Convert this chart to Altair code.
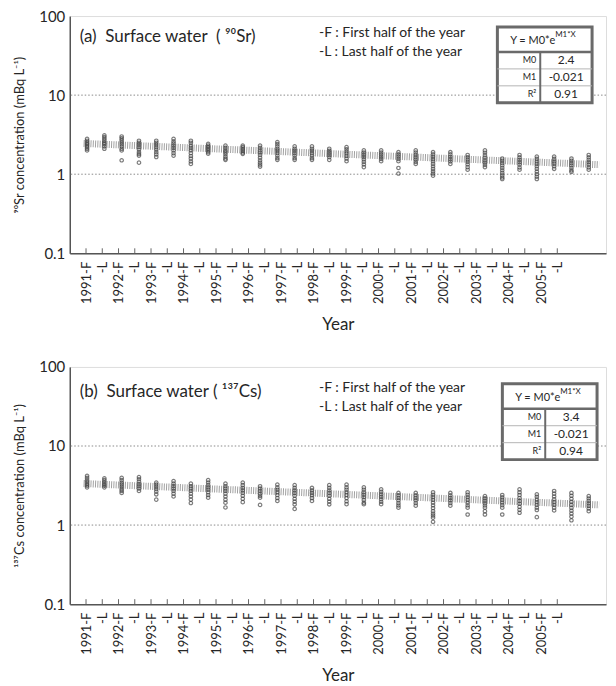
import altair as alt
import pandas as pd

# ---------------- data ----------------
tick_labels = ["1991-F", "-L", "1992-F", "-L", "1993-F", "-L", "1994-F", "-L",
               "1995-F", "-L", "1996-F", "-L", "1997-F", "-L", "1998-F", "-L",
               "1999-F", "-L", "2000-F", "-L", "2001-F", "-L", "2002-F", "-L",
               "2003-F", "-L", "2004-F", "-L", "2005-F", "-L"]

sr_cols = [
    [2.8, 2.65, 2.5, 2.4, 2.3, 2.2, 2.1, 2.0],
    [3.1, 2.95, 2.8, 2.65, 2.5, 2.4, 2.25, 2.1],
    [3.0, 2.85, 2.7, 2.55, 2.4, 2.25, 2.1, 2.0, 1.5],
    [2.65, 2.5, 2.35, 2.2, 2.05, 1.9, 1.8, 1.72, 1.4],
    [2.65, 2.5, 2.35, 2.2, 2.05, 1.9, 1.78, 1.65],
    [2.8, 2.6, 2.45, 2.3, 2.15, 2.0, 1.85, 1.72],
    [2.65, 2.5, 2.3, 2.15, 2.0, 1.85, 1.7, 1.58, 1.45, 1.35],
    [2.42, 2.3, 2.2, 2.1, 2.0, 1.9, 1.82],
    [2.3, 2.15, 2.0, 1.9, 1.8, 1.68, 1.58, 1.52],
    [2.3, 2.2, 2.08, 1.98, 1.88, 1.81],
    [2.3, 2.15, 2.0, 1.88, 1.75, 1.62, 1.5, 1.4, 1.32, 1.25],
    [2.55, 2.4, 2.25, 2.1, 1.98, 1.85, 1.72, 1.6, 1.52],
    [2.25, 2.1, 1.98, 1.85, 1.72, 1.6, 1.52],
    [2.25, 2.1, 1.98, 1.85, 1.72, 1.6, 1.52],
    [2.1, 1.98, 1.86, 1.75, 1.64, 1.52],
    [2.2, 2.07, 1.95, 1.83, 1.7, 1.58, 1.46],
    [2.0, 1.88, 1.76, 1.65, 1.54, 1.43, 1.33, 1.23],
    [2.0, 1.88, 1.77, 1.66, 1.56, 1.46],
    [1.9, 1.78, 1.67, 1.56, 1.46, 1.2, 1.02],
    [2.0, 1.88, 1.76, 1.64, 1.53, 1.43, 1.35],
    [1.9, 1.78, 1.66, 1.55, 1.45, 1.35, 1.26, 1.17, 1.09, 1.02, 0.96],
    [1.9, 1.78, 1.66, 1.55, 1.45, 1.35],
    [1.75, 1.64, 1.53, 1.43, 1.33, 1.23, 1.14],
    [2.0, 1.87, 1.74, 1.62, 1.5, 1.4, 1.31, 1.23],
    [1.58, 1.48, 1.38, 1.29, 1.2, 1.12, 1.04, 0.97, 0.91, 0.87],
    [1.75, 1.63, 1.52, 1.42, 1.32, 1.22, 1.14],
    [1.67, 1.56, 1.45, 1.35, 1.26, 1.17, 1.08, 1.0, 0.93, 0.87],
    [1.67, 1.56, 1.45, 1.36, 1.26, 1.17],
    [1.58, 1.48, 1.38, 1.29, 1.2, 1.12, 1.07],
    [1.75, 1.63, 1.52, 1.42, 1.32, 1.22, 1.14],
]

cs_cols = [
    [4.2, 3.95, 3.7, 3.5, 3.3, 3.15, 3.0],
    [3.9, 3.7, 3.5, 3.3, 3.15, 3.0],
    [3.95, 3.7, 3.45, 3.25, 3.05, 2.85, 2.7, 2.55],
    [4.05, 3.8, 3.55, 3.3, 3.1, 2.9, 2.7],
    [3.45, 3.25, 3.05, 2.85, 2.65, 2.45, 2.1],
    [3.6, 3.35, 3.1, 2.9, 2.7, 2.5, 2.3],
    [3.35, 3.1, 2.9, 2.7, 2.5, 2.3, 2.1, 1.9],
    [3.7, 3.45, 3.2, 3.0, 2.8, 2.6, 2.4, 2.22],
    [3.35, 3.1, 2.9, 2.7, 2.5, 2.3, 2.1, 1.92, 1.67],
    [3.45, 3.2, 2.95, 2.75, 2.55, 2.35, 2.15, 1.95],
    [3.1, 2.9, 2.7, 2.5, 2.35, 2.22, 1.8],
    [3.25, 3.0, 2.8, 2.6, 2.4, 2.2, 2.02],
    [3.2, 2.95, 2.75, 2.55, 2.35, 2.15, 1.98, 1.83, 1.6],
    [2.95, 2.75, 2.55, 2.38, 2.2, 2.02],
    [3.2, 2.95, 2.75, 2.55, 2.35, 2.15, 1.98, 1.83],
    [3.25, 3.0, 2.8, 2.6, 2.4, 2.2, 2.0, 1.84],
    [3.0, 2.8, 2.6, 2.42, 2.25, 2.08, 1.92, 1.84],
    [2.83, 2.63, 2.45, 2.28, 2.12, 1.97, 1.84],
    [2.55, 2.38, 2.2, 2.05, 1.9, 1.77, 1.66],
    [2.55, 2.38, 2.2, 2.05, 1.9, 1.76],
    [2.6, 2.42, 2.25, 2.08, 1.92, 1.78, 1.64, 1.5, 1.4, 1.32, 1.24, 1.1],
    [2.55, 2.38, 2.2, 2.05, 1.9, 1.76],
    [2.6, 2.42, 2.25, 2.08, 1.92, 1.78, 1.66, 1.36],
    [2.33, 2.18, 2.03, 1.89, 1.77, 1.66, 1.5, 1.36],
    [2.4, 2.24, 2.08, 1.93, 1.79, 1.66, 1.36],
    [2.83, 2.6, 2.4, 2.2, 2.02, 1.86, 1.7, 1.56, 1.43],
    [2.45, 2.28, 2.1, 1.95, 1.8, 1.66, 1.55, 1.26],
    [2.7, 2.5, 2.3, 2.12, 1.95, 1.8, 1.66, 1.53],
    [2.55, 2.35, 2.15, 1.97, 1.8, 1.65, 1.52, 1.4, 1.28, 1.15],
    [2.33, 2.17, 2.02, 1.88, 1.75, 1.62, 1.5],
]

fit_x = [-0.2, 29.6]
sr_fit = [2.45, 1.32]
cs_fit = [3.35, 1.8]

grid_vals = [1, 10]
y_ticks = [0.1, 1, 10, 100]

sr_table = ["2.4", "-0.021", "0.91"]
cs_table = ["3.4", "-0.021", "0.94"]
table_labels = ["M0", "M1", "R²"]

# ---------------- layout ----------------
W, H = 538, 238
FONT = "Lato"
TXT = "#262626"
NB = "\u00a0"
one = pd.DataFrame({"a": [0]})


def text(s, x, y, size, align="left", baseline="middle", color=TXT, weight="normal"):
    return alt.Chart(one).mark_text(
        text=s, align=align, baseline=baseline, fontSize=size, font=FONT,
        color=color, fontWeight=weight
    ).encode(x=alt.value(x), y=alt.value(y))


def hline(x1, x2, y, w, color):
    return alt.Chart(one).mark_rule(color=color, strokeWidth=w).encode(
        x=alt.value(x1), x2=alt.value(x2), y=alt.value(y))


def vline(x, y1, y2, w, color):
    return alt.Chart(one).mark_rule(color=color, strokeWidth=w).encode(
        x=alt.value(x), y=alt.value(y1), y2=alt.value(y2))


def panel(cols, fit_vals, title_txt, ytitle, table_vals, tx, ty, hdr_dy):
    pts = pd.DataFrame([{"idx": i, "v": v} for i, col in enumerate(cols) for v in col])
    fit = pd.DataFrame({"idx": fit_x, "v": fit_vals})
    grid = pd.DataFrame({"v": grid_vals})
    ticks = pd.DataFrame({"t": list(range(len(tick_labels)))})

    xs = alt.Scale(domain=[-1, 30], nice=False, zero=False)
    yscale = alt.Scale(type="log", domain=[0.1, 100], nice=False)
    label_arr = "[" + ",".join("'" + l + "'" for l in tick_labels) + "]"

    grid_layer = alt.Chart(grid).mark_rule(
        color="#8a8a8a", strokeWidth=1, strokeDash=[1.5, 2]
    ).encode(y=alt.Y("v:Q", scale=yscale))

    fit_layer = alt.Chart(fit).mark_line(
        color="#a0a0a0", strokeWidth=7, strokeDash=[1, 1.3], strokeCap="butt"
    ).encode(x=alt.X("idx:Q", scale=xs, axis=None), y=alt.Y("v:Q", scale=yscale))

    pt_layer = alt.Chart(pts).mark_point(
        shape="circle", filled=False, color="#454545", strokeWidth=1.2, size=12
    ).encode(
        x=alt.X("idx:Q", scale=xs, axis=None),
        y=alt.Y("v:Q", scale=yscale, title=ytitle,
                axis=alt.Axis(values=y_ticks, grid=False, ticks=False,
                              labelExpr="datum.value < 1 ? '0.1' : format(datum.value, 'd')",
                              labelFontSize=15, labelFont=FONT, labelColor=TXT,
                              labelPadding=5, titleFontSize=13, titleFont=FONT,
                              titleFontWeight="normal", titleColor=TXT, titlePadding=12,
                              domainColor="#555", domainWidth=1.5)),
    )

    tick_layer = alt.Chart(ticks).mark_rule(color="#666", strokeWidth=1).encode(
        x=alt.X("t:Q", scale=alt.Scale(domain=[-1, 32], nice=False, zero=False),
                title="Year",
                axis=alt.Axis(orient="bottom", values=list(range(len(tick_labels))),
                              labelExpr=label_arr + "[datum.value]", labelAngle=270,
                              labelAlign="right", labelBaseline="middle",
                              labelFontSize=13, labelFont=FONT, labelColor=TXT,
                              labelPadding=8, ticks=False, grid=False,
                              titleFontSize=17, titleFont=FONT, titleFontWeight="normal",
                              titleColor=TXT, titlePadding=13,
                              domainColor="#555", domainWidth=1.5)),
        y=alt.value(H - 5), y2=alt.value(H),
    )

    # annotation texts
    t_title = text(title_txt, 10, 21 + hdr_dy, 17)
    t_f = text("-F : First half of the year", 250, 17 + hdr_dy, 14)
    t_l = text("-L : Last half of the year", 250, 36 + hdr_dy, 14)

    # table
    x0, x1, xm = tx, tx + 95, tx + 43
    y0 = ty
    yh = ty + 25
    r1 = yh + 17
    r2 = r1 + 17
    y1 = r2 + 17
    box = alt.Chart(one).mark_rect(fill="white", stroke="#6a6a6a", strokeWidth=3).encode(
        x=alt.value(x0), x2=alt.value(x1), y=alt.value(y0), y2=alt.value(y1))
    parts = [box,
             hline(x0, x1, yh, 2.5, "#6a6a6a"),
             hline(x0, x1, r1, 1, "#b5b5b5"),
             hline(x0, x1, r2, 1, "#b5b5b5"),
             vline(xm, yh, y1, 2, "#6a6a6a"),
             text("Y = M0*e", x0 + 58, y0 + 14, 11, align="right"),
             text("M1*X", x0 + 58, y0 + 8, 8, align="left"),
             ]
    rows_y = [(yh + r1) / 2, (r1 + r2) / 2, (r2 + y1) / 2]
    for lab, val, yy in zip(table_labels, table_vals, rows_y):
        parts.append(text(lab, xm - 4, yy, 9, align="right"))
        parts.append(text(val, (xm + x1) / 2, yy, 12, align="center"))

    return alt.layer(grid_layer, fit_layer, pt_layer, tick_layer,
                     t_title, t_f, t_l, *parts).resolve_scale(x="independent").properties(
        width=W, height=H)


top = panel(sr_cols, sr_fit, "(a)" + NB + NB + "Surface water" + NB + NB + "(" + NB + "⁹⁰Sr)",
            "⁹⁰Sr concentration (mBq L⁻¹)", sr_table, 429, 11, 0)
bottom = panel(cs_cols, cs_fit, "(b)" + NB + NB + "Surface water (" + NB + "¹³⁷Cs)",
               "¹³⁷Cs concentration (mBq L⁻¹)", cs_table, 434, 17, 4)

chart = alt.vconcat(top, bottom, spacing=26).properties(
    padding={"left": 13, "top": 7, "right": 2, "bottom": 2}
).configure_view(stroke="#707070", strokeWidth=2).configure(background="white")

chart.save("out.html", embed_options={"renderer": "svg", "actions": False})
